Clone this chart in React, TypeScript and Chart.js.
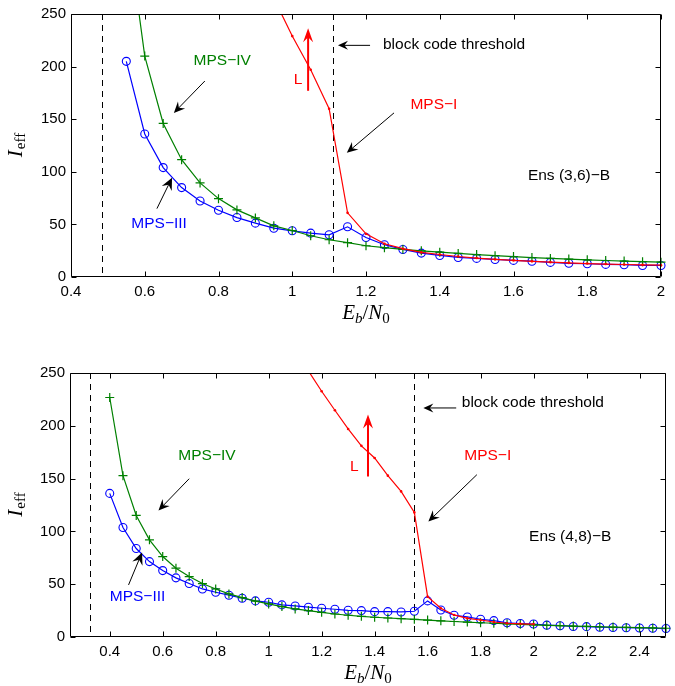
import React, { useEffect, useRef } from 'react';
import { Chart, registerables } from 'chart.js';

Chart.register(...registerables);

// ---------------- Top panel: Ens (3,6)-B ----------------
const topXs = [0.55, 0.6, 0.65, 0.7, 0.75, 0.8, 0.85, 0.9, 0.95, 1.0, 1.05, 1.1, 1.15, 1.2, 1.25, 1.3, 1.35, 1.4, 1.45, 1.5, 1.55, 1.6, 1.65, 1.7, 1.75, 1.8, 1.85, 1.9, 1.95, 2.0];
const topMPS3 = [205, 136, 104, 85, 72.3, 63.5, 56.5, 51.2, 46.4, 43.9, 41.7, 40.1, 47.7, 37.5, 30.7, 26.2, 22.7, 20.5, 18.6, 17.7, 16.7, 15.8, 15, 13.9, 13, 12.6, 12, 11.7, 11, 11];
const topMPS4 = [340, 210, 146, 111.5, 89.4, 74.5, 63.8, 56.2, 48.6, 44.2, 39.2, 35.4, 32.6, 29.7, 27.9, 26.3, 24.9, 23.6, 22.4, 21.3, 20.3, 19.4, 18.5, 17.7, 17, 16.3, 15.7, 15.1, 14.6, 14.1];
const topXsI = [0.95, 1.0, 1.05, 1.1, 1.15, 1.2, 1.25, 1.3, 1.35, 1.4, 1.45, 1.5, 1.55, 1.6, 1.65, 1.7, 1.75, 1.8, 1.85, 1.9, 1.95, 2.0];
const topMPS1 = [265, 229, 197, 160, 61, 41, 31.6, 26.9, 23.4, 21.4, 19.5, 18, 16.8, 15.8, 14.9, 14.1, 13.4, 12.8, 12.3, 11.9, 11.5, 11.2];
const topXTicks = [0.4, 0.6, 0.8, 1, 1.2, 1.4, 1.6, 1.8, 2];
const topThresholds = [0.483, 1.11];

// ---------------- Bottom panel: Ens (4,8)-B ----------------
const botXs = [0.4, 0.45, 0.5, 0.55, 0.6, 0.65, 0.7, 0.75, 0.8, 0.85, 0.9, 0.95, 1.0, 1.05, 1.1, 1.15, 1.2, 1.25, 1.3, 1.35, 1.4, 1.45, 1.5, 1.55, 1.6, 1.65, 1.7, 1.75, 1.8, 1.85, 1.9, 1.95, 2.0, 2.05, 2.1, 2.15, 2.2, 2.25, 2.3, 2.35, 2.4, 2.45, 2.5];
const botMPS3 = [136, 103.7, 83.8, 71.4, 62.9, 56, 50.6, 45.5, 42.4, 39.6, 36.7, 34.2, 32.9, 30.4, 29.4, 28.2, 27.2, 26.3, 25.3, 25, 24, 24, 23.7, 24.4, 34.2, 25.6, 20.6, 19, 16.8, 15.5, 13.5, 12.8, 12.3, 11.2, 10.7, 10, 9.8, 9.3, 9, 8.8, 8.5, 8.3, 8.0];
const botMPS4 = [226.8, 152.8, 115.1, 92, 76.2, 65.2, 57.2, 50.6, 45.5, 40.8, 37.3, 33.9, 31.3, 28.8, 26.6, 25, 23.4, 21.8, 20.6, 19.6, 18.7, 18, 17.4, 16.7, 16, 15.3, 14.7, 14.1, 13.5, 13, 12.5, 12, 11.5, 11.1, 10.7, 10.3, 10, 9.7, 9.4, 9.1, 8.8, 8.6, 8.3];
const botXsI = [1.1, 1.15, 1.2, 1.25, 1.3, 1.35, 1.4, 1.45, 1.5, 1.55, 1.6, 1.65, 1.7, 1.75, 1.8, 1.85, 1.9, 1.95, 2.0];
const botMPS1 = [272, 252, 232.7, 214.7, 197, 181, 169.5, 152.8, 137.9, 118, 38.2, 27.2, 20.9, 17.7, 16.1, 14.2, 13, 12.5, 12.2];
const botXTicks = [0.4, 0.6, 0.8, 1, 1.2, 1.4, 1.6, 1.8, 2, 2.2, 2.4];
const botThresholds = [0.326, 1.55];

const yTicks = [0, 50, 100, 150, 200, 250];

const RED = '#ff0000';
const GREEN = '#008000';
const BLUE = '#0000ff';
const SANS = '"Liberation Sans", Arial, Helvetica, sans-serif';
const SERIF = '"Liberation Serif", "Times New Roman", serif';

type Txt = { text: string; x: number; y: number; color: string; align: CanvasTextAlign };
type Arr = { x1: number; y1: number; x2: number; y2: number; color: string; lw: number; hl: number; hw: number };

const topTexts: Txt[] = [
  { text: 'block code threshold', x: 1.246, y: 221, color: '#000', align: 'left' },
  { text: 'MPS\u2212IV', x: 0.81, y: 206, color: GREEN, align: 'center' },
  { text: 'L', x: 1.016, y: 188, color: RED, align: 'center' },
  { text: 'MPS\u2212I', x: 1.384, y: 163.5, color: RED, align: 'center' },
  { text: 'Ens (3,6)\u2212B', x: 1.639, y: 96, color: '#000', align: 'left' },
  { text: 'MPS\u2212III', x: 0.639, y: 51, color: BLUE, align: 'center' },
];
const topArrows: Arr[] = [
  { x1: 1.211, y1: 220.2, x2: 1.124, y2: 220.2, color: '#000', lw: 1, hl: 10, hw: 4.5 },
  { x1: 0.763, y1: 186.3, x2: 0.679, y2: 156, color: '#000', lw: 1, hl: 11, hw: 5 },
  { x1: 1.043, y1: 177, x2: 1.043, y2: 236.5, color: RED, lw: 2, hl: 14, hw: 5 },
  { x1: 1.276, y1: 156, x2: 1.148, y2: 118, color: '#000', lw: 1, hl: 11, hw: 5 },
  { x1: 0.633, y1: 65, x2: 0.674, y2: 94.4, color: '#000', lw: 1, hl: 12, hw: 5.5 },
];

const botTexts: Txt[] = [
  { text: 'block code threshold', x: 1.729, y: 221.7, color: '#000', align: 'left' },
  { text: 'MPS\u2212IV', x: 0.767, y: 172, color: GREEN, align: 'center' },
  { text: 'L', x: 1.323, y: 161.6, color: RED, align: 'center' },
  { text: 'MPS\u2212I', x: 1.827, y: 172, color: RED, align: 'center' },
  { text: 'Ens (4,8)\u2212B', x: 1.983, y: 95.2, color: '#000', align: 'left' },
  { text: 'MPS\u2212III', x: 0.505, y: 38.2, color: BLUE, align: 'center' },
];
const botArrows: Arr[] = [
  { x1: 1.708, y1: 216.9, x2: 1.584, y2: 216.9, color: '#000', lw: 1, hl: 10, hw: 4.5 },
  { x1: 0.7, y1: 149.9, x2: 0.584, y2: 119.8, color: '#000', lw: 1, hl: 11, hw: 5 },
  { x1: 1.375, y1: 152.1, x2: 1.375, y2: 210.6, color: RED, lw: 2, hl: 14, hw: 5 },
  { x1: 1.786, y1: 153.7, x2: 1.603, y2: 109.4, color: '#000', lw: 1, hl: 11, hw: 5 },
  { x1: 0.471, y1: 49.3, x2: 0.522, y2: 80, color: '#000', lw: 1, hl: 12, hw: 5.5 },
];

function drawArrow(ctx: CanvasRenderingContext2D, x1: number, y1: number, x2: number, y2: number, a: Arr) {
  const dx = x2 - x1, dy = y2 - y1;
  const len = Math.hypot(dx, dy) || 1;
  const ux = dx / len, uy = dy / len;
  const nx = -uy, ny = ux;
  ctx.save();
  ctx.strokeStyle = a.color;
  ctx.fillStyle = a.color;
  ctx.lineWidth = a.lw;
  ctx.setLineDash([]);
  ctx.beginPath();
  ctx.moveTo(x1, y1);
  ctx.lineTo(x2 - ux * a.hl * 0.6, y2 - uy * a.hl * 0.6);
  ctx.stroke();
  ctx.beginPath();
  ctx.moveTo(x2, y2);
  ctx.lineTo(x2 - ux * a.hl + nx * a.hw, y2 - uy * a.hl + ny * a.hw);
  ctx.lineTo(x2 - ux * a.hl * 0.65, y2 - uy * a.hl * 0.65);
  ctx.lineTo(x2 - ux * a.hl - nx * a.hw, y2 - uy * a.hl - ny * a.hw);
  ctx.closePath();
  ctx.fill();
  ctx.restore();
}

type Panel = {
  xMin: number; xMax: number; xTicks: number[];
  thresholds: number[];
  texts: Txt[]; arrows: Arr[];
  series: { xs: number[]; ys: number[]; kind: 'I' | 'III' | 'IV' }[];
  padTop: number; padRight: number; xAxisH: number; yAxisW: number;
  height: number;
};

const topPanel: Panel = {
  xMin: 0.4, xMax: 2.0, xTicks: topXTicks, thresholds: topThresholds,
  texts: topTexts, arrows: topArrows,
  series: [
    { xs: topXsI, ys: topMPS1, kind: 'I' },
    { xs: topXs, ys: topMPS4, kind: 'IV' },
    { xs: topXs, ys: topMPS3, kind: 'III' },
  ],
  padTop: 13, padRight: 14, xAxisH: 343 - 277, yAxisW: 71, height: 343,
};

const botPanel: Panel = {
  xMin: 0.25, xMax: 2.5, xTicks: botXTicks, thresholds: botThresholds,
  texts: botTexts, arrows: botArrows,
  series: [
    { xs: botXsI, ys: botMPS1, kind: 'I' },
    { xs: botXs, ys: botMPS4, kind: 'IV' },
    { xs: botXs, ys: botMPS3, kind: 'III' },
  ],
  padTop: 30, padRight: 9, xAxisH: 343 - 294, yAxisW: 70, height: 343,
};

function fmt(v: number) {
  return String(+Number(v).toFixed(2));
}

function makeChart(canvas: HTMLCanvasElement, p: Panel) {
  const decor = {
    id: 'decor',
    beforeDatasetsDraw(chart: any) {
      const ctx = chart.ctx as CanvasRenderingContext2D;
      const xs = chart.scales.x, ca = chart.chartArea;
      ctx.save();
      ctx.strokeStyle = '#000';
      ctx.lineWidth = 1;
      ctx.setLineDash([6, 5]);
      for (const t of p.thresholds) {
        const px = Math.round(xs.getPixelForValue(t)) + 0.5;
        ctx.beginPath();
        ctx.moveTo(px, ca.top);
        ctx.lineTo(px, ca.bottom);
        ctx.stroke();
      }
      ctx.restore();
    },
    afterDatasetsDraw(chart: any) {
      const ctx = chart.ctx as CanvasRenderingContext2D;
      const xs = chart.scales.x, ys = chart.scales.y, ca = chart.chartArea;
      // annotations
      for (const a of p.arrows) {
        drawArrow(ctx, xs.getPixelForValue(a.x1), ys.getPixelForValue(a.y1), xs.getPixelForValue(a.x2), ys.getPixelForValue(a.y2), a);
      }
      ctx.save();
      ctx.font = '15.5px ' + SANS;
      ctx.textBaseline = 'middle';
      for (const t of p.texts) {
        ctx.fillStyle = t.color;
        ctx.textAlign = t.align;
        ctx.fillText(t.text, xs.getPixelForValue(t.x), ys.getPixelForValue(t.y));
      }
      ctx.restore();
      // box + inward ticks
      ctx.save();
      ctx.strokeStyle = '#000';
      ctx.lineWidth = 1;
      ctx.setLineDash([]);
      const L = Math.round(ca.left) + 0.5, R = Math.round(ca.right) - 0.5;
      const T = Math.round(ca.top) + 0.5, B = Math.round(ca.bottom) - 0.5;
      ctx.beginPath();
      ctx.rect(L, T, R - L, B - T);
      ctx.stroke();
      const tl = 5;
      ctx.beginPath();
      for (const v of p.xTicks) {
        const px = Math.round(xs.getPixelForValue(v)) + 0.5;
        ctx.moveTo(px, B); ctx.lineTo(px, B - tl);
        ctx.moveTo(px, T); ctx.lineTo(px, T + tl);
      }
      for (const v of yTicks) {
        const py = Math.round(ys.getPixelForValue(v)) + 0.5;
        ctx.moveTo(L, py); ctx.lineTo(L + tl, py);
        ctx.moveTo(R, py); ctx.lineTo(R - tl, py);
      }
      ctx.stroke();
      ctx.restore();
      // axis titles
      ctx.save();
      ctx.fillStyle = '#000';
      ctx.textBaseline = 'alphabetic';
      // x title: E_b / N_0
      const parts = [
        { t: 'E', f: 'italic 21px ' + SERIF, dy: 0 },
        { t: 'b', f: 'italic 15px ' + SERIF, dy: 4 },
        { t: '/', f: '21px ' + SERIF, dy: 0 },
        { t: 'N', f: 'italic 21px ' + SERIF, dy: 0 },
        { t: '0', f: '15px ' + SERIF, dy: 4 },
      ];
      let total = 0;
      const widths: number[] = [];
      for (const pt of parts) { ctx.font = pt.f; const w = ctx.measureText(pt.t).width; widths.push(w); total += w; }
      let cx = (ca.left + ca.right) / 2 - total / 2;
      const base = ca.bottom + 42;
      ctx.textAlign = 'left';
      parts.forEach((pt, i) => { ctx.font = pt.f; ctx.fillText(pt.t, cx, base + pt.dy); cx += widths[i]; });
      // y title: I_eff rotated
      ctx.translate(15, (ca.top + ca.bottom) / 2);
      ctx.rotate(-Math.PI / 2);
      ctx.font = 'italic 21px ' + SERIF;
      const wI = ctx.measureText('I').width;
      ctx.font = '15px ' + SERIF;
      const wE = ctx.measureText('eff').width;
      const start = -(wI + wE) / 2;
      ctx.font = 'italic 21px ' + SERIF;
      ctx.fillText('I', start, 7);
      ctx.font = '15px ' + SERIF;
      ctx.fillText('eff', start + wI + 1, 10);
      ctx.restore();
    },
  };

  const styleFor = (kind: 'I' | 'III' | 'IV') => {
    if (kind === 'I') return { borderColor: RED, pointBackgroundColor: RED, pointBorderColor: RED, pointStyle: 'circle', pointRadius: 1.3, pointBorderWidth: 0 };
    if (kind === 'IV') return { borderColor: GREEN, pointBackgroundColor: 'rgba(0,0,0,0)', pointBorderColor: GREEN, pointStyle: 'cross', pointRadius: 4.5, pointBorderWidth: 1.2 };
    return { borderColor: BLUE, pointBackgroundColor: 'rgba(0,0,0,0)', pointBorderColor: BLUE, pointStyle: 'circle', pointRadius: 4, pointBorderWidth: 1.1 };
  };

  return new Chart(canvas, {
    type: 'line',
    data: {
      datasets: p.series.map((s) => ({
        label: 'MPS-' + s.kind,
        data: s.xs.map((x, i) => ({ x, y: s.ys[i] })),
        borderWidth: 1.2,
        tension: 0,
        fill: false,
        clip: { left: 10, right: 10, top: 0, bottom: 10 },
        ...styleFor(s.kind),
      })) as any,
    },
    options: {
      animation: false,
      responsive: false,
      devicePixelRatio: 1,
      layout: { padding: { top: p.padTop, right: p.padRight, left: 0, bottom: 0 } },
      plugins: { legend: { display: false }, tooltip: { enabled: false } },
      scales: {
        x: {
          type: 'linear',
          min: p.xMin,
          max: p.xMax,
          grid: { display: false, drawTicks: false },
          border: { display: false },
          afterBuildTicks: (s: any) => { s.ticks = p.xTicks.map((v) => ({ value: v })); },
          afterFit: (s: any) => { s.height = p.xAxisH; },
          ticks: { color: '#000', padding: 6, autoSkip: false, maxRotation: 0, font: { family: SANS, size: 15 }, callback: (v: any) => fmt(v) },
        },
        y: {
          type: 'linear',
          min: 0,
          max: 250,
          grid: { display: false, drawTicks: false },
          border: { display: false },
          afterBuildTicks: (s: any) => { s.ticks = yTicks.map((v) => ({ value: v })); },
          afterFit: (s: any) => { s.width = p.yAxisW; },
          ticks: { color: '#000', padding: 5, autoSkip: false, font: { family: SANS, size: 15 }, callback: (v: any) => fmt(v) },
        },
      },
    } as any,
    plugins: [decor],
  });
}

export default function App() {
  const topRef = useRef<HTMLCanvasElement>(null);
  const botRef = useRef<HTMLCanvasElement>(null);
  useEffect(() => {
    const c1 = makeChart(topRef.current!, topPanel);
    const c2 = makeChart(botRef.current!, botPanel);
    return () => { c1.destroy(); c2.destroy(); };
  }, []);
  return (
    <div style={{ position: 'absolute', left: 0, top: 0, width: 675, height: 686, background: '#fff' }}>
      <canvas ref={topRef} width={675} height={343} style={{ position: 'absolute', left: 0, top: 0, width: 675, height: 343 }} />
      <canvas ref={botRef} width={675} height={343} style={{ position: 'absolute', left: 0, top: 343, width: 675, height: 343 }} />
    </div>
  );
}
